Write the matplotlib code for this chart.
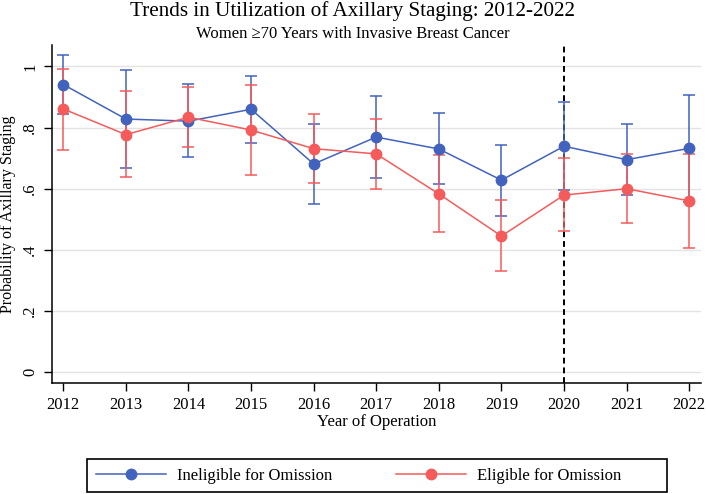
import matplotlib
matplotlib.use("Agg")
import matplotlib.pyplot as plt
from matplotlib.patches import Rectangle
import numpy as np

plt.rcParams['font.family'] = ['Liberation Serif', 'DejaVu Serif']

years = [2012, 2013, 2014, 2015, 2016, 2017, 2018, 2019, 2020, 2021, 2022]

# Ineligible for omission: estimate, lower CI, upper CI
inel = [0.941, 0.828, 0.821, 0.860, 0.681, 0.769, 0.730, 0.628, 0.739, 0.695, 0.732]
inel_lo = [0.845, 0.669, 0.704, 0.751, 0.551, 0.634, 0.615, 0.511, 0.596, 0.578, 0.558]
inel_hi = [1.037, 0.987, 0.943, 0.968, 0.813, 0.903, 0.848, 0.744, 0.883, 0.811, 0.906]

# Eligible for omission
elig = [0.861, 0.777, 0.834, 0.792, 0.731, 0.714, 0.583, 0.445, 0.579, 0.600, 0.560]
elig_lo = [0.726, 0.639, 0.738, 0.644, 0.617, 0.600, 0.458, 0.331, 0.462, 0.489, 0.407]
elig_hi = [0.992, 0.919, 0.933, 0.939, 0.843, 0.827, 0.710, 0.562, 0.699, 0.713, 0.714]

yticks = [0, 0.2, 0.4, 0.6, 0.8, 1.0]
ytick_labels = ["0", ".2", ".4", ".6", ".8", "1"]

blue = "#4263BD"
red = "#F55B5B"

fig = plt.figure(figsize=(7.06, 4.94), dpi=100)
ax = fig.add_axes([0.0737, 0.2247, 0.9193, 0.684])

x = np.array(years)
for est, lo, hi, col, lab in [(inel, inel_lo, inel_hi, blue, "Ineligible for Omission"),
                              (elig, elig_lo, elig_hi, red, "Eligible for Omission")]:
    est = np.array(est)
    err = [est - np.array(lo), np.array(hi) - est]
    ax.errorbar(x, est, yerr=err, fmt="none", ecolor=col, elinewidth=1.1,
                capsize=4, capthick=1.1, zorder=2)
    ax.plot(x, est, "-o", color=col, lw=1.1, markersize=7.5, label=lab, zorder=3)

ax.axvline(2020, color="black", ls=(0, (3, 2)), lw=1.4, zorder=1)

ax.set_xlim(2011.82, 2022.19)
ax.set_ylim(-0.036, 1.07)
ax.set_xticks(years)
ax.set_yticks(yticks)
ax.set_yticklabels(ytick_labels, rotation=90, va="center")
ax.tick_params(labelsize=12, direction="out", length=6, width=1, pad=4)
ax.grid(axis="y", color="#e3e3e3", lw=1)
ax.set_axisbelow(True)
for s in ["top", "right"]:
    ax.spines[s].set_visible(False)
ax.spines["left"].set_linewidth(1.1)
ax.spines["bottom"].set_linewidth(1.1)

ax.set_xlabel("Year of Operation", fontsize=12, labelpad=1)
ax.set_ylabel("Probability of Axillary Staging", fontsize=11.5)
ax.yaxis.set_label_coords(-0.055, 0.5)

fig.text(0.5, 0.977, "Trends in Utilization of Axillary Staging: 2012-2022",
         ha="center", va="center", fontsize=15.2)
fig.text(0.5, 0.931, "Women \u226570 Years with Invasive Breast Cancer",
         ha="center", va="center", fontsize=12)

# legend box (Stata-like, with extra space on the right)
fig.patches.append(Rectangle((87 / 706, 1 - 492 / 494), 580 / 706, 33 / 494,
                             transform=fig.transFigure, fill=False,
                             edgecolor="black", lw=1.2))
leg = fig.legend(loc="center left", bbox_to_anchor=(96 / 706, 1 - 475.5 / 494), ncol=2,
                 fontsize=12, frameon=False, handlelength=4.2, handletextpad=0.65,
                 columnspacing=3.85, borderpad=0, borderaxespad=0)

fig.savefig("out.png", dpi=100)
